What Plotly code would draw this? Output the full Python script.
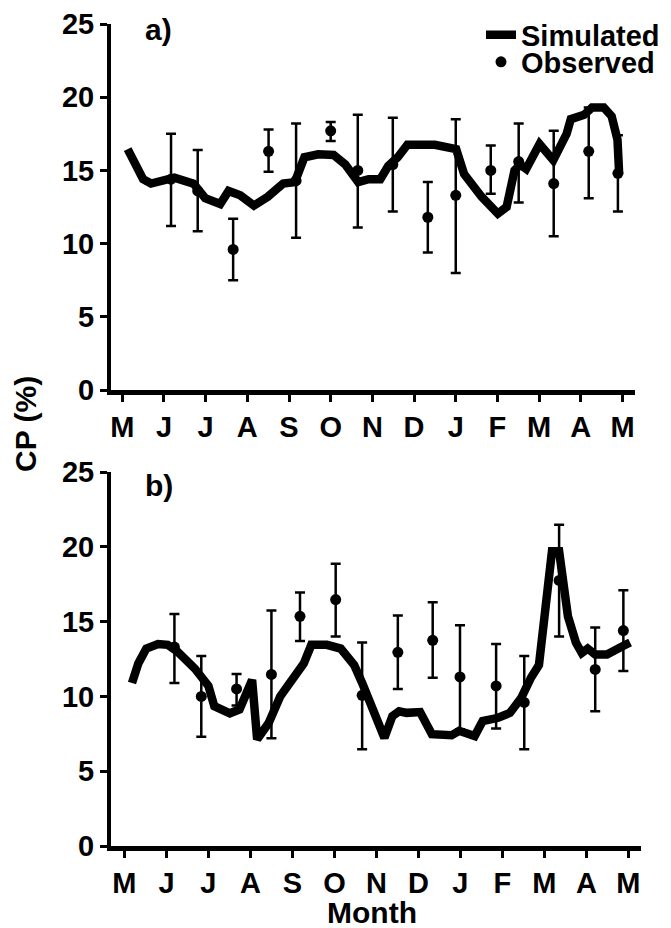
import plotly.graph_objects as go

# ---------------- data ----------------
month_labels = ["M", "J", "J", "A", "S", "O", "N", "D", "J", "F", "M", "A", "M"]
month_ticks = list(range(13))
y_ticks = [0, 5, 10, 15, 20, 25]

sim_a_x = [0.13, 0.50, 0.69, 1.25, 1.71, 1.99, 2.35, 2.55, 2.83, 3.16, 3.49, 3.86, 4.14,
           4.37, 4.70, 5.07, 5.35, 5.66, 5.91, 6.19, 6.38, 6.61, 6.84, 7.50, 8.01, 8.20,
           8.62, 9.01, 9.22, 9.41, 9.55, 9.69, 10.01, 10.34, 10.66, 10.76, 11.08, 11.27,
           11.55, 11.74, 11.88, 11.92]
sim_a_y = [16.45, 14.4, 14.1, 14.5, 14.1, 13.1, 12.7, 13.6, 13.3, 12.6, 13.2, 14.1, 14.2,
           15.9, 16.1, 16.05, 15.4, 14.2, 14.4, 14.4, 15.3, 15.9, 16.75, 16.75, 16.45, 14.75,
           13.2, 12.05, 12.5, 15.0, 15.4, 15.1, 16.8, 15.7, 17.5, 18.5, 18.8, 19.3,
           19.3, 18.7, 17.1, 14.75]

obs_a_x = [1.17, 1.81, 2.66, 3.51, 4.17, 5.00, 5.65, 6.49, 7.33, 8.00, 8.84, 9.51, 10.35, 11.19, 11.89]
obs_a_y = [14.4, 13.6, 9.6, 16.3, 14.3, 17.7, 15.0, 15.4, 11.8, 13.3, 15.0, 15.6, 14.1, 16.3, 14.8]
obs_a_hi = [17.5, 16.4, 11.7, 17.8, 18.2, 18.3, 18.8, 18.6, 14.2, 18.5, 16.7, 18.2, 17.7, 19.3, 17.4]
obs_a_lo = [11.2, 10.85, 7.5, 14.9, 10.4, 17.0, 11.1, 12.2, 9.4, 8.0, 13.4, 12.8, 10.5, 13.1, 12.2]

sim_b_x = [0.18, 0.33, 0.52, 0.80, 1.03, 1.26, 1.68, 2.00, 2.14, 2.51, 2.74, 2.88, 3.04,
           3.16, 3.43, 3.71, 4.08, 4.27, 4.45, 4.82, 5.15, 5.47, 5.66, 5.94, 6.19, 6.38,
           6.54, 6.72, 7.04, 7.32, 7.79, 7.97, 8.34, 8.53, 8.90, 9.18, 9.45, 9.68, 9.87,
           10.18, 10.35, 10.56, 10.75, 10.89, 11.03, 11.21, 11.49, 11.86, 12.04]
sim_b_y = [10.9, 12.2, 13.2, 13.5, 13.45, 13.0, 11.85, 10.7, 9.35, 8.87, 9.13, 10.2, 11.1,
           7.13, 8.2, 10.0, 11.35, 12.2, 13.45, 13.45, 13.2, 12.1, 10.9, 9.13, 7.23, 8.68,
           9.0, 8.9, 8.95, 7.47, 7.4, 7.7, 7.35, 8.35, 8.57, 8.9, 9.9, 11.25, 12.1,
           19.7, 19.7, 15.35, 13.6, 12.9, 13.2, 12.8, 12.8, 13.35, 13.6]

obs_b_x = [1.19, 1.83, 2.67, 3.50, 4.18, 5.03, 5.66, 6.51, 7.34, 7.99, 8.85, 9.52, 10.35, 11.21, 11.88]
obs_b_y = [13.3, 10.0, 10.5, 11.47, 15.35, 16.47, 10.07, 12.95, 13.75, 11.3, 10.7, 9.6, 17.75, 11.8, 14.4]
obs_b_hi = [15.5, 12.7, 11.5, 15.75, 16.95, 18.87, 13.6, 15.4, 16.3, 14.75, 13.5, 12.7, 21.47, 14.6, 17.1]
obs_b_lo = [10.9, 7.3, 9.4, 7.2, 13.7, 14.0, 6.47, 10.5, 11.25, 7.8, 7.85, 6.47, 14.0, 9.0, 11.7]

# ---------------- figure ----------------
W, H = 671, 928
FONT = "Liberation Sans"
BLACK = "#000000"


def px_x(p):
    return p / W


def px_y(p):
    return 1 - p / H


def err(y, hi, lo):
    return [h - v for h, v in zip(hi, y)], [v - l for v, l in zip(y, lo)]


fig = go.Figure()

for (ox, oy, ohi, olo, sx, sy, xa, ya, first) in [
    (obs_a_x, obs_a_y, obs_a_hi, obs_a_lo, sim_a_x, sim_a_y, "x", "y", True),
    (obs_b_x, obs_b_y, obs_b_hi, obs_b_lo, sim_b_x, sim_b_y, "x2", "y2", False),
]:
    plus, minus = err(oy, ohi, olo)
    fig.add_trace(go.Scatter(
        x=ox, y=oy, mode="markers", name="Observed",
        marker=dict(color=BLACK, size=11, symbol="circle"),
        error_y=dict(type="data", symmetric=False, array=plus, arrayminus=minus,
                     color=BLACK, thickness=2.5, width=5),
        xaxis=xa, yaxis=ya, showlegend=first, legend="legend2",
    ))
    fig.add_trace(go.Scatter(
        x=sx, y=sy, mode="lines", name="Simulated",
        line=dict(color=BLACK, width=8.5),
        xaxis=xa, yaxis=ya, showlegend=first, legend="legend",
    ))

axis_common = dict(
    showgrid=False, zeroline=False, showline=True, linecolor=BLACK,
    ticks="outside", tickcolor=BLACK, tickwidth=2.5, ticklen=7,
    tickfont=dict(family=FONT, size=29, color=BLACK, weight="bold"),
)

xa_common = dict(axis_common, tickvals=month_ticks, ticktext=month_labels, linewidth=5)
ya_common = dict(axis_common, tickvals=y_ticks, range=[0, 25], linewidth=4)

fig.update_layout(
    width=W, height=H,
    margin=dict(l=0, r=0, t=0, b=0, autoexpand=False),
    paper_bgcolor="white", plot_bgcolor="white",
    font=dict(family=FONT, color=BLACK),
    xaxis=dict(xa_common, domain=[px_x(111), px_x(635)], range=[-0.27, 12.30], anchor="y"),
    yaxis=dict(ya_common, domain=[px_y(390), px_y(24)], anchor="x"),
    xaxis2=dict(xa_common, domain=[px_x(111), px_x(641)], range=[-0.32, 12.30], anchor="y2"),
    yaxis2=dict(ya_common, domain=[px_y(846), px_y(472)], anchor="x2"),
    legend=dict(x=px_x(481), y=px_y(35), xanchor="left", yanchor="middle",
                bgcolor="rgba(0,0,0,0)", borderwidth=0,
                font=dict(family=FONT, size=29, color=BLACK, weight="bold")),
    legend2=dict(x=px_x(481), y=px_y(62), xanchor="left", yanchor="middle",
                 bgcolor="rgba(0,0,0,0)", borderwidth=0,
                 font=dict(family=FONT, size=29, color=BLACK, weight="bold")),
    annotations=[
        dict(text="a)", xref="paper", yref="paper", x=px_x(143), y=px_y(29),
             xanchor="left", yanchor="middle", showarrow=False,
             font=dict(family=FONT, size=30, color=BLACK, weight="bold")),
        dict(text="b)", xref="paper", yref="paper", x=px_x(143), y=px_y(486),
             xanchor="left", yanchor="middle", showarrow=False,
             font=dict(family=FONT, size=30, color=BLACK, weight="bold")),
        dict(text="CP (%)", xref="paper", yref="paper", x=px_x(25), y=px_y(424),
             xanchor="center", yanchor="middle", textangle=-90, showarrow=False,
             font=dict(family=FONT, size=30, color=BLACK, weight="bold")),
        dict(text="Month", xref="paper", yref="paper", x=px_x(372), y=px_y(912),
             xanchor="center", yanchor="middle", showarrow=False,
             font=dict(family=FONT, size=30, color=BLACK, weight="bold")),
    ],
)

fig.write_html("out.html")
